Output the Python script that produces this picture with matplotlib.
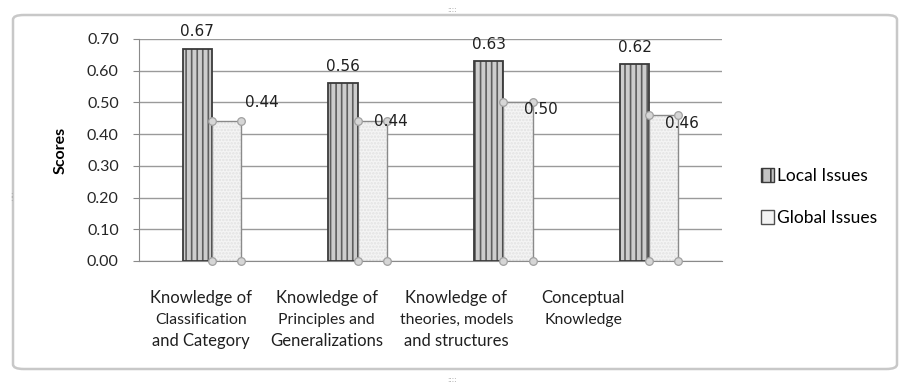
import matplotlib.pyplot as plt
from matplotlib.patches import Patch, FancyBboxPatch
from matplotlib.ticker import FormatStrFormatter
import numpy as np

categories = [
    ["Knowledge of", "Classification", "and Category"],
    ["Knowledge of", "Principles and", "Generalizations"],
    ["Knowledge of", "theories, models", "and structures"],
    ["Conceptual", "Knowledge", ""],
]
local_issues = [0.67, 0.56, 0.63, 0.62]
global_issues = [0.44, 0.44, 0.50, 0.46]

# label nudges (pixels), the global labels were dragged around by hand
global_label_offsets = [(35, 19), (19, 0), (23, -7), (18, -8)]
cat_label_shift = [-11, -31, -47, -66]

plt.rcParams['hatch.linewidth'] = 1.2

fig = plt.figure(figsize=(9.02, 3.85), dpi=100)
ax = fig.add_axes([139/902, 1 - 261/385, (722-139)/902, (261-39)/385])

x = np.arange(len(local_issues))
w = 0.2

# local bars: striped fill + dark outline
ax.bar(x - w/2, local_issues, w, color='#cdcdcd', hatch='|||', edgecolor='#5e5e5e', linewidth=0, zorder=3)
ax.bar(x - w/2, local_issues, w, fill=False, edgecolor='#3a3a3a', linewidth=1.3, zorder=4)

# global bars: light speckled fill
ax.bar(x + w/2, global_issues, w, color='#f4f4f4', hatch='.....', edgecolor='#e2e2e2', linewidth=0, zorder=3)
ax.bar(x + w/2, global_issues, w, fill=False, edgecolor='#8a8a8a', linewidth=1.0, zorder=4)

# selection handles on the global series corners
for xi, v in zip(x, global_issues):
    for cx in (xi, xi + w):
        for cy in (v, 0):
            ax.plot(cx, cy, 'o', ms=5.5, mfc='#d6d6d6', mec='#a0a0a0', mew=0.9, zorder=6, clip_on=False)

for xi, v in zip(x, local_issues):
    ax.annotate("%.2f" % v, (xi - w/2, v), xytext=(0, 17), textcoords='offset pixels',
                ha='center', va='center', fontsize=11, family='DejaVu Sans', color='#202020', zorder=7)
for xi, v, off in zip(x, global_issues, global_label_offsets):
    ax.annotate("%.2f" % v, (xi + w/2, v), xytext=off, textcoords='offset pixels',
                ha='center', va='center', fontsize=11, family='DejaVu Sans', color='#202020', zorder=7)

ax.set_xlim(-0.5, len(local_issues) - 0.5)
ax.set_ylim(0, 0.70)
ax.set_yticks(np.arange(0, 0.71, 0.1))
ax.yaxis.set_major_formatter(FormatStrFormatter('%.2f'))
ax.set_xticks([])
ax.yaxis.grid(True, color='#9a9a9a', linewidth=1.0, zorder=0)
ax.set_axisbelow(True)
for s in ['top', 'right']:
    ax.spines[s].set_visible(False)
ax.spines['left'].set_color('#8a8a8a')
ax.spines['bottom'].set_color('#8a8a8a')
ax.tick_params(axis='y', length=4.5, color='#8a8a8a', pad=10, labelsize=11.5, labelcolor='#262626')
for t in ax.get_yticklabels():
    t.set_family('Lato')

ax.set_ylabel('Scores', fontsize=11.5, fontweight='bold', family='Lato', labelpad=14)

# category labels, three lines each
line_y = [-37, -59, -80]
line_size = [12, 11.3, 12]
for xi, lines, dx in zip(x, categories, cat_label_shift):
    for txt, dy, fs in zip(lines, line_y, line_size):
        ax.annotate(txt, (xi, 0), xycoords=('data', 'axes fraction'), xytext=(dx, dy),
                    textcoords='offset pixels', ha='center', va='center',
                    fontsize=fs, family='Lato', color='#202020', annotation_clip=False)

handles = [Patch(facecolor='#c4c4c4', edgecolor='#3a3a3a', hatch='||', label='Local Issues'),
           Patch(facecolor='#f3f3f3', edgecolor='#505050', label='Global Issues')]
leg = fig.legend(handles=handles, loc='center left', bbox_to_anchor=(745/902, 1 - 197/385),
                 frameon=False, handlelength=0.75, handleheight=0.9, handletextpad=0.2,
                 labelspacing=1.5, prop={'family': 'Lato', 'size': 12.5})

# chart frame
frame = FancyBboxPatch((13/902, 16/385), 884/902, 354/385, boxstyle='round,pad=0,rounding_size=0.012',
                       transform=fig.transFigure, fill=False, edgecolor='#c8c8c8', linewidth=1.8)
fig.patches.append(frame)
fig.text(452/902, 1 - 10/385, '::::', ha='center', va='center', fontsize=5, color='#999999')
fig.text(452/902, 1 - 380/385, '::::', ha='center', va='center', fontsize=5, color='#999999')
fig.text(11/902, 1 - 197/385, ':\n:', ha='center', va='center', fontsize=5, color='#999999', linespacing=0.6)

fig.savefig('out.png', dpi=100)
